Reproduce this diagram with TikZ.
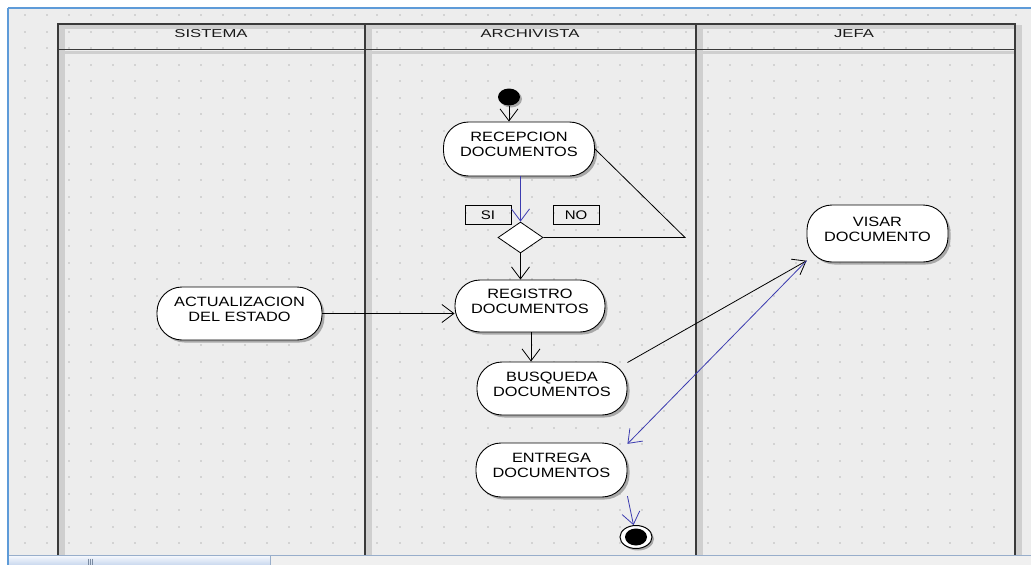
\documentclass[tikz,border=0pt]{standalone}
\usepackage{fontspec}
\usepackage{graphicx}
\newfontfamily\umlfont{Liberation Sans}
\usetikzlibrary{shapes.geometric,arrows.meta,shadows,calc}

\definecolor{canvas}{HTML}{EDEDED}
\definecolor{griddot}{HTML}{D3D3D3}
\definecolor{laneline}{HTML}{3A3A3A}
\definecolor{laneshadow}{HTML}{CFCFCF}
\definecolor{frameblue}{HTML}{5E9BD8}
\definecolor{barline}{HTML}{98AECB}
\definecolor{flowblue}{HTML}{3C3CB0}
\definecolor{scrollA}{HTML}{F1F5FC}
\definecolor{scrollB}{HTML}{C9D8EE}
\definecolor{panelgray}{HTML}{F0F0F0}

% two-line activity caption, set a little wide and lifted above the centre
\newcommand\actlabel[2]{\raisebox{0pt}[\height][\dimexpr\depth+6pt\relax]{%
  \scalebox{1.21}[1]{\begin{tabular}{@{}c@{}}#1\\#2\end{tabular}}}}
\newcommand\widetext[2]{\scalebox{#1}[1]{#2}}

\tikzset{
  activity/.style={draw=black, line width=0.9pt, fill=white, rounded corners=25pt,
    inner sep=0pt, font=\umlfont\fontsize{13.5}{15}\selectfont,
    drop shadow={shadow xshift=2.5pt, shadow yshift=-2.5pt, fill=black!45, opacity=0.7}},
  guard/.style={draw=black, line width=0.8pt, inner sep=0pt,
    minimum width=46pt, minimum height=19pt, font=\umlfont\fontsize{12.5}{14}\selectfont},
  lanehead/.style={font=\umlfont\fontsize{11.5}{13}\selectfont, text=black!90, inner sep=0pt},
  plain/.style={draw=black, line width=0.8pt},
  flow/.style={draw=black, line width=0.8pt, -{Straight Barb[length=12pt,width=18pt]}},
  flowb/.style={draw=flowblue, line width=0.8pt, -{Straight Barb[length=12pt,width=18pt]}},
}

\begin{document}
\begin{tikzpicture}[x=1pt, y=-1pt]
\useasboundingbox (0,0) rectangle (1031,565);
\fill[white] (0,0) rectangle (1031,565);

% editor canvas with its dotted grid
\fill[canvas] (8,8) rectangle (1031,555);
\foreach \i in {0,...,45}
  \foreach \j in {0,...,32}
    \fill[griddot] ({24+22.03*\i},{14+16.5*\j}) rectangle ++(2,2);

% status strip with the scroll bar
\fill[panelgray] (8,556) rectangle (1031,565);
\shade[top color=scrollA, bottom color=scrollB] (9,556.5) rectangle (270,565);
\draw[barline, line width=0.8pt] (270,556) -- (270,565);
\foreach \gx in {88.5,90.5,92.5}
  \draw[barline!80!black, line width=0.6pt] (\gx,558.5) -- (\gx,565);
\draw[barline, line width=1.2pt] (8,555.5) -- (1031,555.5);

% window border
\draw[frameblue, line width=1.6pt] (8,8) -- (1031,8);
\draw[frameblue, line width=1.6pt] (8,8) -- (8,565);

% swimlanes: shadows first, then the frame
\fill[laneshadow] (59,25) rectangle (1021,28.5);
\fill[laneshadow] (59,50.5) rectangle (1021,54);
\fill[laneshadow] (59,25) rectangle (64.5,555);
\fill[laneshadow] (366,25) rectangle (371.5,555);
\fill[laneshadow] (697,25) rectangle (702.5,555);
\fill[laneshadow] (1016,25) rectangle (1021.5,555);
\draw[laneline, line width=1.3pt] (58,555) -- (58,24) -- (1015,24) -- (1015,555);
\draw[laneline, line width=1.2pt] (58,49.5) -- (1015,49.5);
\draw[laneline, line width=1.3pt] (365,24) -- (365,555);
\draw[laneline, line width=1.3pt] (696,24) -- (696,555);

\node[lanehead] (lsis) at (211,33.5) {\widetext{1.45}{SISTEMA}};
\node[lanehead] (larc) at (530,33.5) {\widetext{1.45}{ARCHIVISTA}};
\node[lanehead] (ljef) at (854,33.5) {\widetext{1.45}{JEFA}};

% activities
\node[activity, minimum width=151pt, minimum height=54pt] (recep) at (519,149)
  {\actlabel{RECEPCION}{DOCUMENTOS}};
\node[activity, minimum width=165pt, minimum height=53pt] (act) at (239.5,313.5)
  {\actlabel{ACTUALIZACION}{DEL ESTADO}};
\node[activity, minimum width=150pt, minimum height=52pt] (reg) at (530,306)
  {\actlabel{REGISTRO}{DOCUMENTOS}};
\node[activity, minimum width=150pt, minimum height=53pt] (busq) at (552,388.5)
  {\actlabel{BUSQUEDA}{DOCUMENTOS}};
\node[activity, minimum width=151pt, minimum height=54pt] (entr) at (551.5,470)
  {\actlabel{ENTREGA}{DOCUMENTOS}};
\node[activity, minimum width=141pt, minimum height=57pt] (visar) at (877.5,233.5)
  {\actlabel{VISAR}{DOCUMENTO}};

% initial and final states
\node[ellipse, fill=black, inner sep=0pt, minimum width=22pt, minimum height=17pt,
  drop shadow={shadow xshift=2pt, shadow yshift=-2pt, fill=black!45, opacity=0.7}] (ini) at (509,97) {};
\node[ellipse, draw=black, line width=1pt, fill=white, inner sep=0pt,
  minimum width=32pt, minimum height=23pt,
  drop shadow={shadow xshift=2pt, shadow yshift=-2pt, fill=black!45, opacity=0.7}] (fin) at (636,537) {};
\fill[black] (fin.center) ellipse [x radius=11pt, y radius=8.5pt];

% decision with its guards
\node[diamond, draw=black, line width=0.8pt, fill=white, inner sep=0pt,
  minimum width=45pt, minimum height=31pt] (dec) at (520.5,237.5) {};
\node[guard] (si) at (488,215) {\widetext{1.2}{SI}};
\node[guard] (no) at (576,215) {\widetext{1.2}{NO}};
\coordinate (nobend) at (685,237.5);

% transitions
\draw[flow] (ini.south) -- (ini.south |- recep.north);
\draw[flowb] (recep.south -| dec.north) -- (dec.north);
\draw[plain] (recep.east) -- (nobend) -- (dec.east);
\draw[flow] (dec.south) -- (dec.south |- reg.north);
\draw[flow] (act.east) -- (act.east -| reg.west);
\draw[flow] ([xshift=1pt]reg.south) -- ([xshift=1pt]reg.south |- busq.north);
\draw[flow] (busq.19) -- (visar.201);
\draw[flowb] (visar.201) -- (entr.19);
\draw[flowb] (entr.-19) -- (fin);
\end{tikzpicture}
\end{document}
